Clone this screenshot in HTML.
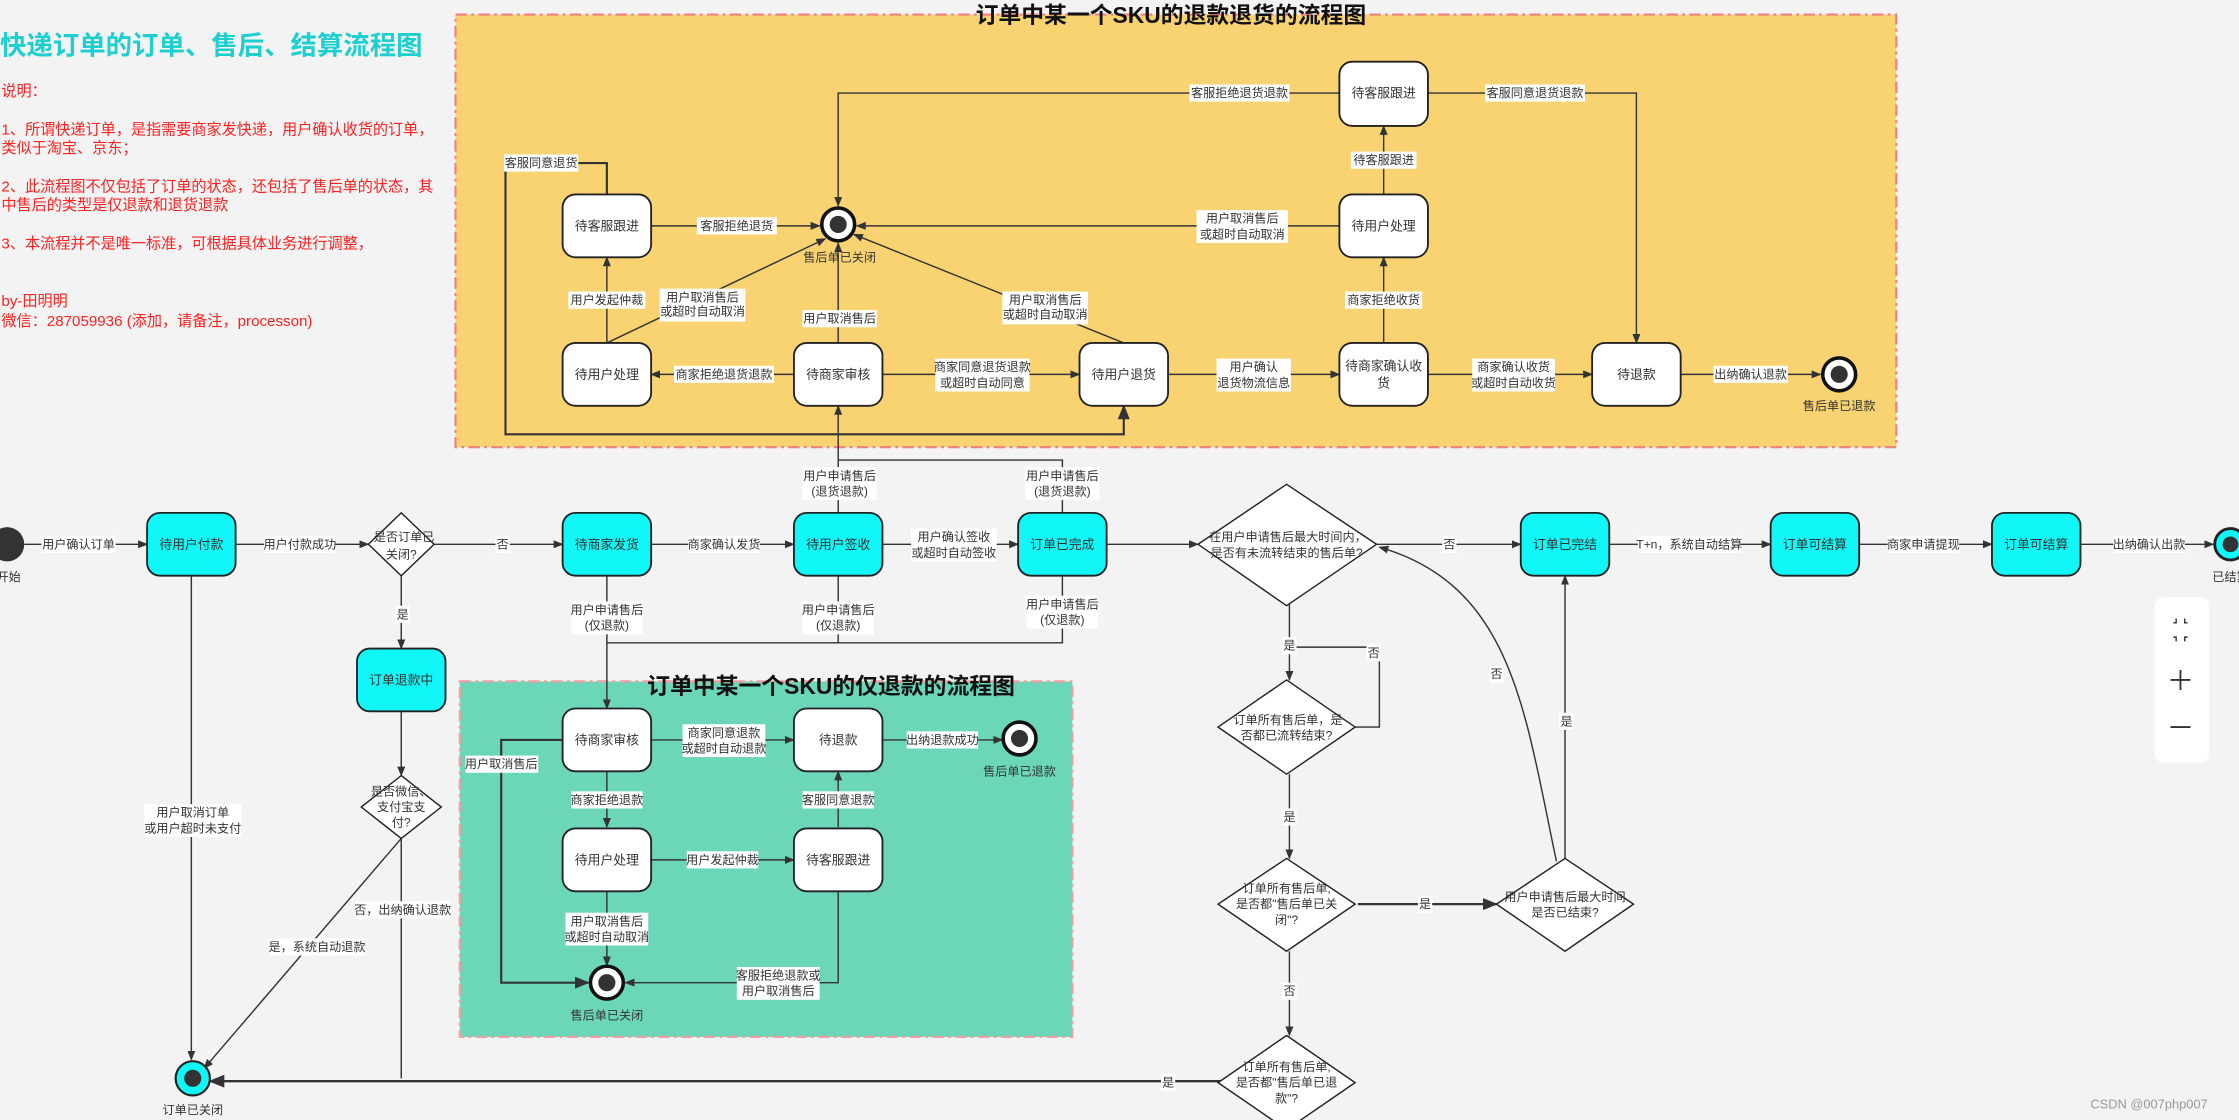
<!DOCTYPE html>
<html><head><meta charset="utf-8"><style>
html,body{margin:0;padding:0;background:#f3f3f3;overflow:hidden}
svg{display:block}
text{font-family:"Liberation Sans","Noto Sans CJK SC",sans-serif;fill:#333}
.l{font-size:8.5px;text-anchor:middle;dominant-baseline:central}
.n{font-size:9px;text-anchor:middle;dominant-baseline:central;fill:#333}
.e{fill:none;stroke:#333;stroke-width:1}
.lb{fill:#fff}
.box{fill:#fff;stroke:#222;stroke-width:1.3}
.cy{fill:#11f7f7;stroke:#222;stroke-width:1.3}
.dm{fill:#fff;stroke:#222;stroke-width:1}
.r{font-size:10.6px;fill:#ff2020}
</style></head><body>
<svg width="2239" height="1120" viewBox="0 0 1568 784" xmlns="http://www.w3.org/2000/svg">
<defs><marker id="a" viewBox="0 0 10 10" refX="9" refY="5" markerWidth="7" markerHeight="7" orient="auto-start-reverse"><path d="M0,1 L10,5 L0,9 z" fill="#333"/></marker></defs>
<rect width="1568" height="784" fill="#f3f3f3"/>

<!-- left notes -->
<text x="0" y="38" style="font-size:18.5px;font-weight:bold;fill:#1ecfd0">快递订单的订单、售后、结算流程图</text>
<text class="r" x="1" y="67">说明：</text>
<text class="r" x="1" y="94">1、所谓快递订单，是指需要商家发快递，用户确认收货的订单，</text>
<text class="r" x="1" y="107">类似于淘宝、京东；</text>
<text class="r" x="1" y="134">2、此流程图不仅包括了订单的状态，还包括了售后单的状态，其</text>
<text class="r" x="1" y="147">中售后的类型是仅退款和退货退款</text>
<text class="r" x="1" y="174">3、本流程并不是唯一标准，可根据具体业务进行调整，</text>
<text class="r" x="1" y="214">by-田明明</text>
<text class="r" x="1" y="228">微信：287059936 (添加，请备注，processon)</text>

<!-- orange container -->
<rect x="319" y="10" width="1009" height="303" fill="#f9d372" stroke="#f08080" stroke-width="1.5" stroke-dasharray="8,3,2,3"/>
<text x="820" y="16" style="font-size:16px;font-weight:bold;fill:#111;text-anchor:middle">订单中某一个SKU的退款退货的流程图</text>

<!-- green container -->
<rect x="322" y="477" width="429" height="249" fill="#6bd6b8" stroke="#f0a0a0" stroke-width="1.5" stroke-dasharray="8,3,2,3"/>
<text x="582" y="486" style="font-size:16px;font-weight:bold;fill:#111;text-anchor:middle">订单中某一个SKU的仅退款的流程图</text>

<!-- edges orange -->
<path class="e" d="M456,158 H574" marker-end="url(#a)"/>
<path class="e" d="M938,158 H600" marker-end="url(#a)"/>
<path class="e" d="M938,65 H587 V144" marker-end="url(#a)"/>
<path class="e" d="M1000,65 H1146 V240" marker-end="url(#a)"/>
<path class="e" d="M969,136 V88" marker-end="url(#a)"/>
<path class="e" d="M969,240 V180" marker-end="url(#a)"/>
<path class="e" d="M425,240 V180" marker-end="url(#a)"/>
<path class="e" d="M425,240 L578,167" marker-end="url(#a)"/>
<path class="e" d="M587,240 V170" marker-end="url(#a)"/>
<path class="e" d="M787,240 L598,164" marker-end="url(#a)"/>
<path class="e" d="M556,262 H456" marker-end="url(#a)"/>
<path class="e" d="M618,262 H756" marker-end="url(#a)"/>
<path class="e" d="M818,262 H938" marker-end="url(#a)"/>
<path class="e" d="M1000,262 H1115" marker-end="url(#a)"/>
<path class="e" d="M1177,262 H1275" marker-end="url(#a)"/>
<path class="e" style="stroke-width:1.5" d="M425,136 V114 H354 V304 H787 V284" marker-end="url(#a)"/>
<path class="e" d="M587,360 V284" marker-end="url(#a)"/>
<path class="e" d="M744,360 V322 H587"/>

<!-- main row edges -->
<path class="e" d="M17,381 H103" marker-end="url(#a)"/>
<path class="e" d="M165,381 H258" marker-end="url(#a)"/>
<path class="e" d="M304,381 H394" marker-end="url(#a)"/>
<path class="e" d="M456,381 H556" marker-end="url(#a)"/>
<path class="e" d="M618,381 H713" marker-end="url(#a)"/>
<path class="e" d="M775,381 H839" marker-end="url(#a)"/>
<path class="e" d="M964,381 H1065" marker-end="url(#a)"/>
<path class="e" d="M1127,381 H1240" marker-end="url(#a)"/>
<path class="e" d="M1302,381 H1395" marker-end="url(#a)"/>
<path class="e" d="M1457,381 H1550" marker-end="url(#a)"/>

<!-- left column -->
<path class="e" d="M134,403 V742" marker-end="url(#a)"/>
<path class="e" d="M281,403 V454" marker-end="url(#a)"/>
<path class="e" d="M281,498 V543" marker-end="url(#a)"/>
<path class="e" d="M281,587 V755"/>
<path class="e" d="M281,587 L143,748" marker-end="url(#a)"/>
<path class="e" style="stroke-width:1.6" d="M855,757 H147" marker-end="url(#a)"/>

<!-- into green -->
<path class="e" d="M425,403 V496" marker-end="url(#a)"/>
<path class="e" d="M587,403 V450"/>
<path class="e" d="M744,403 V450 H425"/>
<path class="e" d="M456,518 H556" marker-end="url(#a)"/>
<path class="e" d="M618,518 H702" marker-end="url(#a)"/>
<path class="e" d="M425,540 V579" marker-end="url(#a)"/>
<path class="e" d="M587,579 V540" marker-end="url(#a)"/>
<path class="e" d="M456,602 H556" marker-end="url(#a)"/>
<path class="e" d="M425,623 V676" marker-end="url(#a)"/>
<path class="e" d="M587,623 V688 H438" marker-end="url(#a)"/>
<path class="e" style="stroke-width:1.5" d="M394,518 H351 V688 H412" marker-end="url(#a)"/>

<!-- right flow -->
<path class="e" d="M903,423 V476" marker-end="url(#a)"/>
<path class="e" d="M949,509 H966 V453 H903"/>
<path class="e" d="M903,542 V601" marker-end="url(#a)"/>
<path class="e" style="stroke-width:1.5" d="M951,633 H1048" marker-end="url(#a)"/>
<path class="e" d="M1096,601 V403" marker-end="url(#a)"/>
<path class="e" d="M1090,603 C1068,500 1060,410 966,383" marker-end="url(#a)"/>
<path class="e" d="M903,666 V725" marker-end="url(#a)"/>

<!-- orange nodes -->
<rect class="box" x="394" y="136" width="62" height="44" rx="9"/><text class="n" x="425" y="158">待客服跟进</text>
<rect class="box" x="394" y="240" width="62" height="44" rx="9"/><text class="n" x="425" y="262">待用户处理</text>
<rect class="box" x="556" y="240" width="62" height="44" rx="9"/><text class="n" x="587" y="262">待商家审核</text>
<rect class="box" x="756" y="240" width="62" height="44" rx="9"/><text class="n" x="787" y="262">待用户退货</text>
<rect class="box" x="938" y="240" width="62" height="44" rx="9"/><text class="n" x="969" y="256">待商家确认收</text><text class="n" x="969" y="268">货</text>
<rect class="box" x="1115" y="240" width="62" height="44" rx="9"/><text class="n" x="1146" y="262">待退款</text>
<rect class="box" x="938" y="43" width="62" height="45" rx="9"/><text class="n" x="969" y="65">待客服跟进</text>
<rect class="box" x="938" y="136" width="62" height="44" rx="9"/><text class="n" x="969" y="158">待用户处理</text>
<circle cx="587" cy="157" r="11.5" fill="#fff" stroke="#111" stroke-width="2.5"/><circle cx="587" cy="157" r="6" fill="#333"/>
<text class="l" x="588" y="180">售后单已关闭</text>
<circle cx="1288" cy="262" r="11.5" fill="#fff" stroke="#111" stroke-width="2.5"/><circle cx="1288" cy="262" r="6" fill="#333"/>
<text class="l" x="1288" y="284">售后单已退款</text>

<!-- main row nodes -->
<circle cx="5" cy="381" r="12" fill="#333"/>
<text class="l" x="6" y="404">开始</text>
<rect class="cy" x="103" y="359" width="62" height="44" rx="9"/><text class="n" x="134" y="381">待用户付款</text>
<polygon class="dm" points="281,359 304,381 281,403 258,381"/><text class="n" x="283" y="376" style="font-size:8.5px">是否订单已</text><text class="n" x="281" y="388" style="font-size:8.5px">关闭?</text>
<rect class="cy" x="394" y="359" width="62" height="44" rx="9"/><text class="n" x="425" y="381">待商家发货</text>
<rect class="cy" x="556" y="359" width="62" height="44" rx="9"/><text class="n" x="587" y="381">待用户签收</text>
<rect class="cy" x="713" y="359" width="62" height="44" rx="9"/><text class="n" x="744" y="381">订单已完成</text>
<polygon class="dm" points="901,339 964,381 901,424 839,381"/><text class="n" x="902" y="376" style="font-size:8.5px">在用户申请售后最大时间内，</text><text class="n" x="901" y="387" style="font-size:8.5px">是否有未流转结束的售后单?</text>
<rect class="cy" x="1065" y="359" width="62" height="44" rx="9"/><text class="n" x="1096" y="381">订单已完结</text>
<rect class="cy" x="1240" y="359" width="62" height="44" rx="9"/><text class="n" x="1271" y="381">订单可结算</text>
<rect class="cy" x="1395" y="359" width="62" height="44" rx="9"/><text class="n" x="1426" y="381">订单可结算</text>
<circle cx="1562" cy="381" r="11" fill="#11f7f7" stroke="#222" stroke-width="2"/><circle cx="1562" cy="381" r="5.5" fill="#333"/>
<text class="l" x="1562" y="404">已结算</text>

<!-- left column nodes -->
<rect class="cy" x="250" y="454" width="62" height="44" rx="9"/><text class="n" x="281" y="476">订单退款中</text>
<polygon class="dm" points="281,543 309,565 281,587 253,565"/><text class="n" x="281" y="554" style="font-size:8.5px">是否微信、</text><text class="n" x="281" y="565" style="font-size:8.5px">支付宝支</text><text class="n" x="281" y="576" style="font-size:8.5px">付?</text>
<circle cx="135" cy="755" r="12" fill="#11f7f7" stroke="#222" stroke-width="1.5"/><circle cx="135" cy="755" r="6" fill="#333"/>
<text class="l" x="135" y="777">订单已关闭</text>

<!-- green nodes -->
<rect class="box" x="394" y="496" width="62" height="44" rx="9"/><text class="n" x="425" y="518">待商家审核</text>
<rect class="box" x="556" y="496" width="62" height="44" rx="9"/><text class="n" x="587" y="518">待退款</text>
<rect class="box" x="394" y="580" width="62" height="44" rx="9"/><text class="n" x="425" y="602">待用户处理</text>
<rect class="box" x="556" y="580" width="62" height="44" rx="9"/><text class="n" x="587" y="602">待客服跟进</text>
<circle cx="714" cy="517" r="11.5" fill="#fff" stroke="#111" stroke-width="2.5"/><circle cx="714" cy="517" r="6" fill="#333"/>
<text class="l" x="714" y="540">售后单已退款</text>
<circle cx="425" cy="688" r="11.5" fill="#fff" stroke="#111" stroke-width="2.5"/><circle cx="425" cy="688" r="6" fill="#333"/>
<text class="l" x="425" y="711">售后单已关闭</text>

<!-- right diamonds -->
<polygon class="dm" points="901,476 949,509 901,542 853,509"/><text class="n" x="902" y="504" style="font-size:8.5px">订单所有售后单，是</text><text class="n" x="901" y="515" style="font-size:8.5px">否都已流转结束?</text>
<polygon class="dm" points="901,601 949,633 901,666 853,633"/><text class="n" x="901" y="622" style="font-size:8.5px">订单所有售后单,</text><text class="n" x="901" y="633" style="font-size:8.5px">是否都"售后单已关</text><text class="n" x="901" y="644" style="font-size:8.5px">闭"?</text>
<polygon class="dm" points="1096,601 1144,633 1096,666 1048,633"/><text class="n" x="1096" y="628" style="font-size:8.5px">用户申请售后最大时间</text><text class="n" x="1096" y="639" style="font-size:8.5px">是否已结束?</text>
<polygon class="dm" points="901,725 949,758 901,791 853,758"/><text class="n" x="901" y="747" style="font-size:8.5px">订单所有售后单,</text><text class="n" x="901" y="758" style="font-size:8.5px">是否都"售后单已退</text><text class="n" x="901" y="769" style="font-size:8.5px">款"?</text>

<g>
<rect class="lb" x="488" y="152" width="56" height="12"/><text class="l" x="516" y="158">客服拒绝退货</text>
<rect class="lb" x="838" y="147" width="64" height="23"/><text class="l" x="870" y="153">用户取消售后</text><text class="l" x="870" y="164">或超时自动取消</text>
<rect class="lb" x="833" y="59" width="70" height="12"/><text class="l" x="868" y="65">客服拒绝退货退款</text>
<rect class="lb" x="1040" y="59" width="70" height="12"/><text class="l" x="1075" y="65">客服同意退货退款</text>
<rect class="lb" x="946" y="106" width="46" height="12"/><text class="l" x="969" y="112">待客服跟进</text>
<rect class="lb" x="942" y="204" width="54" height="12"/><text class="l" x="969" y="210">商家拒绝收货</text>
<rect class="lb" x="398" y="204" width="54" height="12"/><text class="l" x="425" y="210">用户发起仲裁</text>
<rect class="lb" x="462" y="202" width="60" height="23"/><text class="l" x="492" y="208">用户取消售后</text><text class="l" x="492" y="218">或超时自动取消</text>
<rect class="lb" x="562" y="217" width="52" height="12"/><text class="l" x="588" y="223">用户取消售后</text>
<rect class="lb" x="702" y="204" width="60" height="23"/><text class="l" x="732" y="210">用户取消售后</text><text class="l" x="732" y="220">或超时自动取消</text>
<rect class="lb" x="472" y="256" width="70" height="12"/><text class="l" x="507" y="262">商家拒绝退货退款</text>
<rect class="lb" x="655" y="251" width="66" height="23"/><text class="l" x="688" y="257">商家同意退货退款</text><text class="l" x="688" y="268">或超时自动同意</text>
<rect class="lb" x="852" y="251" width="52" height="23"/><text class="l" x="878" y="257">用户确认</text><text class="l" x="878" y="268">退货物流信息</text>
<rect class="lb" x="1031" y="251" width="58" height="23"/><text class="l" x="1060" y="257">商家确认收货</text><text class="l" x="1060" y="268">或超时自动收货</text>
<rect class="lb" x="1200" y="256" width="52" height="12"/><text class="l" x="1226" y="262">出纳确认退款</text>
<rect class="lb" x="353" y="108" width="52" height="12"/><text class="l" x="379" y="114">客服同意退货</text>
<rect class="lb" x="562" y="327" width="52" height="23"/><text class="l" x="588" y="333">用户申请售后</text><text class="l" x="588" y="344">(退货退款)</text>
<rect class="lb" x="718" y="327" width="52" height="23"/><text class="l" x="744" y="333">用户申请售后</text><text class="l" x="744" y="344">(退货退款)</text>

<rect class="lb" x="29" y="375" width="52" height="12"/><text class="l" x="55" y="381">用户确认订单</text>
<rect class="lb" x="185" y="375" width="50" height="12"/><text class="l" x="210" y="381">用户付款成功</text>
<rect class="lb" x="347" y="375" width="10" height="12"/><text class="l" x="352" y="381">否</text>
<rect class="lb" x="482" y="375" width="50" height="12"/><text class="l" x="507" y="381">商家确认发货</text>
<rect class="lb" x="638" y="370" width="60" height="23"/><text class="l" x="668" y="376">用户确认签收</text><text class="l" x="668" y="387">或超时自动签收</text>
<rect class="lb" x="1010" y="375" width="10" height="12"/><text class="l" x="1015" y="381">否</text>
<rect class="lb" x="1147" y="375" width="72" height="12"/><text class="l" x="1183" y="381">T+n，系统自动结算</text>
<rect class="lb" x="1322" y="375" width="50" height="12"/><text class="l" x="1347" y="381">商家申请提现</text>
<rect class="lb" x="1480" y="375" width="50" height="12"/><text class="l" x="1505" y="381">出纳确认出款</text>

<rect class="lb" x="101" y="563" width="68" height="23"/><text class="l" x="135" y="569">用户取消订单</text><text class="l" x="135" y="580">或用户超时未支付</text>
<rect class="lb" x="277" y="424" width="10" height="12"/><text class="l" x="282" y="430">是</text>
<rect class="lb" x="249" y="631" width="66" height="12"/><text class="l" x="282" y="637">否，出纳确认退款</text>
<rect class="lb" x="189" y="657" width="66" height="12"/><text class="l" x="222" y="663">是，系统自动退款</text>
<rect class="lb" x="813" y="752" width="10" height="12"/><text class="l" x="818" y="758">是</text>

<rect class="lb" x="400" y="421" width="50" height="23"/><text class="l" x="425" y="427">用户申请售后</text><text class="l" x="425" y="438">(仅退款)</text>
<rect class="lb" x="562" y="421" width="50" height="23"/><text class="l" x="587" y="427">用户申请售后</text><text class="l" x="587" y="438">(仅退款)</text>
<rect class="lb" x="719" y="417" width="50" height="23"/><text class="l" x="744" y="423">用户申请售后</text><text class="l" x="744" y="434">(仅退款)</text>
<rect class="lb" x="478" y="507" width="58" height="23"/><text class="l" x="507" y="513">商家同意退款</text><text class="l" x="507" y="524">或超时自动退款</text>
<rect class="lb" x="635" y="512" width="50" height="12"/><text class="l" x="660" y="518">出纳退款成功</text>
<rect class="lb" x="400" y="554" width="50" height="12"/><text class="l" x="425" y="560">商家拒绝退款</text>
<rect class="lb" x="562" y="554" width="50" height="12"/><text class="l" x="587" y="560">客服同意退款</text>
<rect class="lb" x="481" y="596" width="50" height="12"/><text class="l" x="506" y="602">用户发起仲裁</text>
<rect class="lb" x="396" y="639" width="58" height="23"/><text class="l" x="425" y="645">用户取消售后</text><text class="l" x="425" y="656">或超时自动取消</text>
<rect class="lb" x="516" y="677" width="58" height="23"/><text class="l" x="545" y="683">客服拒绝退款或</text><text class="l" x="545" y="694">用户取消售后</text>
<rect class="lb" x="326" y="529" width="51" height="12"/><text class="l" x="351" y="535">用户取消售后</text>

<rect class="lb" x="898" y="446" width="10" height="12"/><text class="l" x="903" y="452">是</text>
<rect class="lb" x="957" y="451" width="10" height="12"/><text class="l" x="962" y="457">否</text>
<rect class="lb" x="898" y="566" width="10" height="12"/><text class="l" x="903" y="572">是</text>
<rect class="lb" x="993" y="627" width="10" height="12"/><text class="l" x="998" y="633">是</text>
<rect class="lb" x="1092" y="499" width="10" height="12"/><text class="l" x="1097" y="505">是</text>
<rect class="lb" x="1043" y="466" width="10" height="12"/><text class="l" x="1048" y="472">否</text>
<rect class="lb" x="898" y="688" width="10" height="12"/><text class="l" x="903" y="694">否</text>
</g>

<!-- zoom control -->
<rect x="1509" y="418" width="38" height="116" rx="6" fill="#fff"/>
<path d="M1522,436 h2 v-3 M1532,436 h-2 v-3 M1522,446 h2 v3 M1532,446 h-2 v3" stroke="#333" stroke-width="1" fill="none"/>
<path d="M1527,469 v14 M1520,476 h14" stroke="#333" stroke-width="1.3"/>
<path d="M1520,509 h14" stroke="#333" stroke-width="1.3"/>
<text x="1505" y="776" style="font-size:9px;fill:#999;text-anchor:middle">CSDN @007php007</text>
</svg>
</body></html>
